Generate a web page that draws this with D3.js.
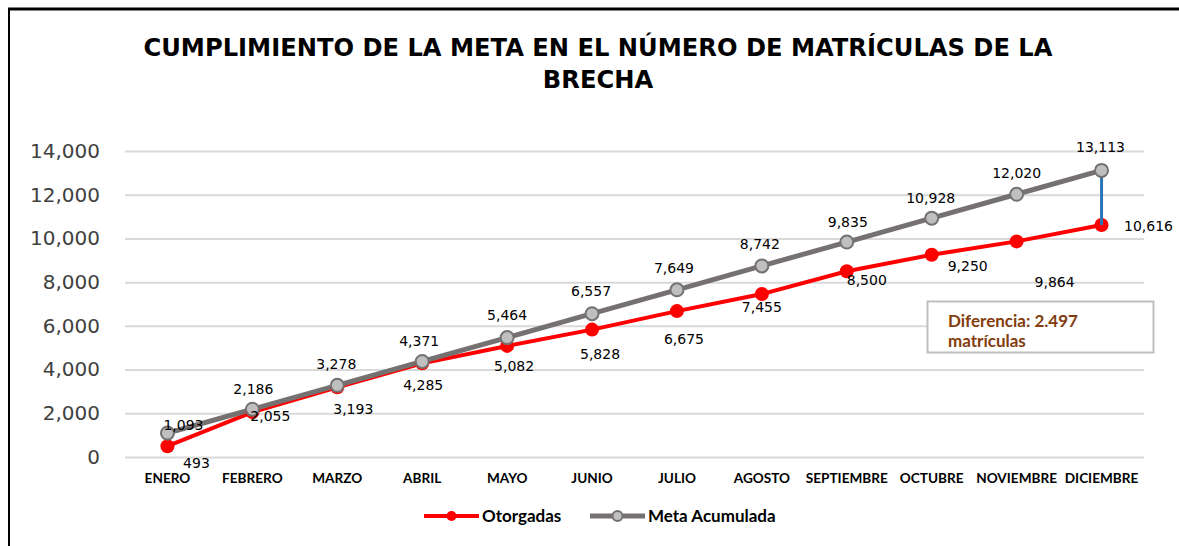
<!DOCTYPE html>
<html>
<head>
<meta charset="utf-8">
<script src="https://cdn.jsdelivr.net/npm/d3@7"></script>
<style>
  body { margin: 0; background: #fff; }
  svg { display: block; }
</style>
</head>
<body>
<svg id="chart" width="1179" height="546"></svg>
<script>
var meses = ["ENERO", "FEBRERO", "MARZO", "ABRIL", "MAYO", "JUNIO", "JULIO",
             "AGOSTO", "SEPTIEMBRE", "OCTUBRE", "NOVIEMBRE", "DICIEMBRE"];
var otorgadas = [493, 2055, 3193, 4285, 5082, 5828, 6675, 7455, 8500, 9250, 9864, 10616];
var metaAcumulada = [1093, 2186, 3278, 4371, 5464, 6557, 7649, 8742, 9835, 10928, 12020, 13113];
var yTicks = [0, 2000, 4000, 6000, 8000, 10000, 12000, 14000];

// label placement (pixels from the point), like the manual placement in the original
var metaLabelOff = [[16, -8], [1, -20], [-1, -21], [-3, -20], [0, -22], [-1, -23], [-3, -22], [-2, -22], [1, -20], [-1, -20], [0, -21], [-1, -23]];
var otorLabelOff = [[29, 17], [18, 4], [16, 22], [1, 22], [7, 20], [8, 24], [7, 28], [0, 13], [20, 9], [36, 11], [38, 41], [47, 1]];

(function lineChart() {
    var svg = d3.select("#chart");
    var left = 125, right = 1144, top = 151, bottom = 457;

    // border (top + left only)
    svg.append("line").attr("x1", 8).attr("x2", 1179).attr("y1", 9).attr("y2", 9)
        .attr("stroke", "#000").attr("stroke-width", 3);
    svg.append("line").attr("x1", 9).attr("x2", 9).attr("y1", 8).attr("y2", 546)
        .attr("stroke", "#000").attr("stroke-width", 2);

    svg.append("text")
        .attr("text-anchor", "middle")
        .style("font-family", "DejaVu Sans")
        .style("font-weight", "bold")
        .style("font-size", "24.2px")
        .selectAll("tspan")
        .data(["CUMPLIMIENTO DE LA META EN EL NÚMERO DE MATRÍCULAS DE LA", "BRECHA"])
        .enter().append("tspan")
        .attr("x", 598)
        .attr("y", function (d, i) { return 56 + i * 32; })
        .text(function (d) { return d; });

    var x = d3.scaleBand().domain(meses).range([left, right]);
    var y = d3.scaleLinear().domain([0, 14000]).range([bottom, top]);
    var cx = function (i) { return x(meses[i]) + x.bandwidth() / 2; };

    // grid
    svg.append("g")
        .attr("transform", "translate(" + left + ",0)")
        .call(d3.axisLeft(y).tickValues(yTicks).tickSize(-(right - left)).tickFormat(""))
        .call(function (g) { g.select(".domain").remove(); })
        .selectAll("line").attr("stroke", "#d9d9d9").attr("stroke-width", 2);

    // y labels
    svg.append("g")
        .attr("transform", "translate(100,0)")
        .call(d3.axisLeft(y).tickValues(yTicks).tickSize(0).tickPadding(0).tickFormat(d3.format(",")))
        .call(function (g) { g.select(".domain").remove(); })
        .selectAll("text")
        .style("font-family", "DejaVu Sans")
        .style("font-size", "20px")
        .attr("fill", "#404040");

    // x labels
    svg.append("g")
        .attr("transform", "translate(0," + bottom + ")")
        .call(d3.axisBottom(x).tickSize(0).tickPadding(16))
        .call(function (g) { g.select(".domain").remove(); })
        .selectAll("text")
        .style("font-family", "Lato")
        .style("font-weight", "bold")
        .style("font-size", "13.6px")
        .attr("fill", "#000");

    var line = d3.line()
        .x(function (d, i) { return cx(i); })
        .y(function (d) { return y(d); });

    svg.append("path").datum(otorgadas)
        .attr("d", line).attr("fill", "none")
        .attr("stroke", "#ff0000").attr("stroke-width", 4);
    svg.append("path").datum(metaAcumulada)
        .attr("d", line).attr("fill", "none")
        .attr("stroke", "#767171").attr("stroke-width", 5);

    svg.selectAll(".pt-otor").data(otorgadas).enter().append("circle")
        .attr("cx", function (d, i) { return cx(i); })
        .attr("cy", function (d) { return y(d); })
        .attr("r", 7).attr("fill", "#ff0000");

    // gap line at last month
    var last = meses.length - 1;
    svg.append("line")
        .attr("x1", cx(last)).attr("x2", cx(last))
        .attr("y1", y(metaAcumulada[last])).attr("y2", y(otorgadas[last]))
        .attr("stroke", "#2e75b6").attr("stroke-width", 3);

    svg.selectAll(".pt-meta").data(metaAcumulada).enter().append("circle")
        .attr("cx", function (d, i) { return cx(i); })
        .attr("cy", function (d) { return y(d); })
        .attr("r", 6.5).attr("fill", "#bfbfbf")
        .attr("stroke", "#767171").attr("stroke-width", 2);

    function labels(data, off) {
        svg.append("g").selectAll("text").data(data).enter().append("text")
            .attr("x", function (d, i) { return cx(i) + off[i][0]; })
            .attr("y", function (d, i) { return y(d) + off[i][1]; })
            .attr("dy", "0.35em")
            .attr("text-anchor", "middle")
            .style("font-family", "DejaVu Sans")
            .style("font-size", "14px")
            .attr("fill", "#000")
            .text(function (d) { return d3.format(",")(d); });
    }
    labels(metaAcumulada, metaLabelOff);
    labels(otorgadas, otorLabelOff);

    // annotation box
    svg.append("rect")
        .attr("x", 927.5).attr("y", 301.5).attr("width", 226).attr("height", 51)
        .attr("fill", "#fff").attr("stroke", "#bfbfbf").attr("stroke-width", 2);
    svg.selectAll(".nota").data(["Diferencia: 2.497", "matrículas"])
        .enter().append("text")
        .attr("x", 948)
        .attr("y", function (d, i) { return 327 + i * 19.5; })
        .style("font-family", "Lato")
        .style("font-weight", "bold")
        .style("font-size", "17px")
        .attr("fill", "#843c0c")
        .text(function (d) { return d; });

    // legend
    var legend = [
        { name: "Otorgadas", color: "#ff0000", fill: "#ff0000", stroke: "none", w: 4, x: 424 },
        { name: "Meta Acumulada", color: "#767171", fill: "#bfbfbf", stroke: "#767171", w: 5, x: 590 }
    ];
    var lg = svg.append("g").selectAll("g").data(legend).enter().append("g")
        .attr("transform", function (d) { return "translate(" + d.x + ",516)"; });
    lg.append("line").attr("x1", 0).attr("x2", 55)
        .attr("stroke", function (d) { return d.color; })
        .attr("stroke-width", function (d) { return d.w; });
    lg.append("circle").attr("cx", 27.5).attr("r", 5)
        .attr("fill", function (d) { return d.fill; })
        .attr("stroke", function (d) { return d.stroke; })
        .attr("stroke-width", 2);
    lg.append("text").attr("x", 58).attr("dy", "0.35em")
        .style("font-family", "Lato")
        .style("font-weight", "bold")
        .style("font-size", "17px")
        .attr("fill", "#000")
        .text(function (d) { return d.name; });
}());
</script>
</body>
</html>
